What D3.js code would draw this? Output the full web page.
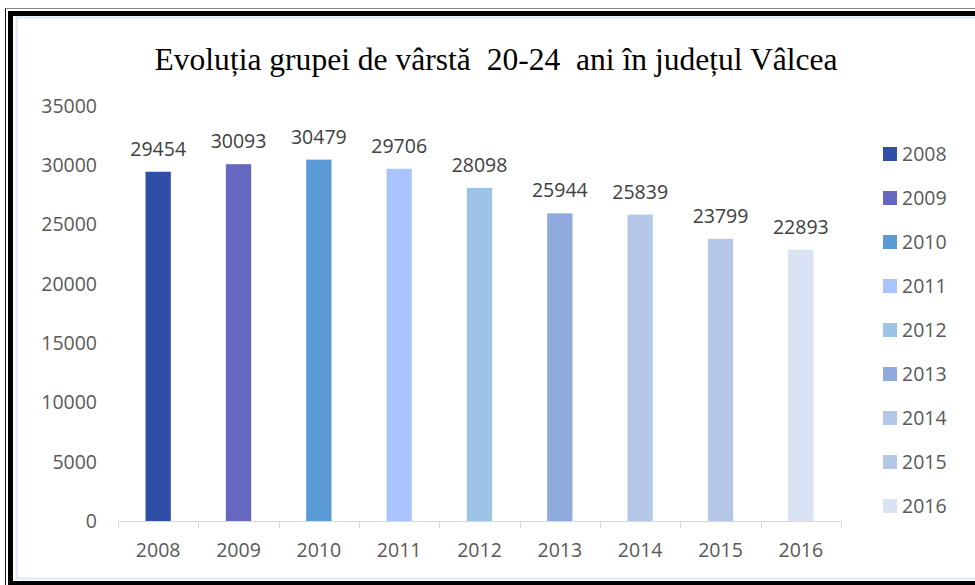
<!DOCTYPE html>
<html lang="ro">
<head>
  <meta charset="UTF-8">
  <title>Evoluția grupei de vârstă 20-24 ani</title>
  <style>
    body { margin: 0; background: #fff; }
    text { font-family: "Open Sans", "Noto Sans", sans-serif; }
  </style>
</head>
<body>
  <script src="https://cdnjs.cloudflare.com/ajax/libs/d3/7.8.5/d3.min.js"></script>
  <script>
    let years = ['2008', '2009', '2010', '2011', '2012', '2013', '2014', '2015', '2016']
    let values = [29454, 30093, 30479, 29706, 28098, 25944, 25839, 23799, 22893]
    let colors = ['#2f4ea6', '#6667c0', '#5b9bd5', '#a9c4ff', '#9dc3e6', '#8faadc', '#b4c7e7', '#b4c7e7', '#dae3f3']
    let yTicks = [0, 5000, 10000, 15000, 20000, 25000, 30000, 35000]

    let width = 975
    let height = 585
    let svg = d3.select('body')
      .append('svg')
      .attr('width', width)
      .attr('height', height)

    // rama neagră dublă
    svg.append('rect').attr('x', 0).attr('y', 0).attr('width', width).attr('height', height).attr('fill', '#fff')
    svg.append('line').attr('x1', 5.5).attr('x2', width).attr('y1', 8.5).attr('y2', 8.5).attr('stroke', '#888')
    svg.append('line').attr('x1', 5.5).attr('x2', 5.5).attr('y1', 8.5).attr('y2', height).attr('stroke', '#111')
    svg.append('path')
      .attr('d', `M10.5,${height} V13.5 H${width}`)
      .attr('fill', 'none').attr('stroke', '#000').attr('stroke-width', 5)
    svg.append('line').attr('x1', 8).attr('x2', width).attr('y1', 583).attr('y2', 583)
      .attr('stroke', '#000').attr('stroke-width', 4)
    svg.append('rect')
      .attr('x', 16.5).attr('y', 17.5).attr('width', width).attr('height', 561)
      .attr('fill', '#fff').attr('stroke', '#dde8f4').attr('stroke-width', 2)

    let margin = { left: 118, right: 134, top: 106, bottom: 64 }

    let xScale = d3.scaleBand()
      .domain(years)
      .range([margin.left, width - margin.right])
      .paddingInner(0.685)
      .paddingOuter(0.3425)

    let yScale = d3.scaleLinear()
      .domain([0, 35000])
      .range([height - margin.bottom, margin.top])

    // titlu
    svg.append('text')
      .attr('x', 496)
      .attr('y', 70)
      .attr('text-anchor', 'middle')
      .attr('textLength', 683)
      .attr('lengthAdjust', 'spacingAndGlyphs')
      .style('white-space', 'pre')
      .style('font-family', '"Liberation Serif", "DejaVu Serif", serif')
      .style('font-size', '32px')
      .attr('fill', '#000')
      .text('Evoluția grupei de vârstă  20-24  ani în județul Vâlcea')

    // axa y (doar etichete)
    svg.append('g')
      .selectAll('text')
      .data(yTicks)
      .enter()
      .append('text')
      .attr('x', 97)
      .attr('y', d => yScale(d))
      .attr('dy', '0.35em')
      .attr('text-anchor', 'end')
      .attr('fill', '#595959')
      .style('font-size', '19.5px')
      .text(d => d)

    // axa x
    let xAxis = d3.axisBottom(xScale).tickSize(0).tickPadding(22)
    let gx = svg.append('g')
      .attr('transform', `translate(0,${yScale(0)})`)
      .call(xAxis)
    gx.select('.domain').attr('stroke', '#d9d9d9')
    gx.selectAll('text').attr('fill', '#595959').style('font-size', '19.5px').style('font-family', '"Open Sans", sans-serif')

    let bounds = years.map(d => xScale(d) - xScale.step() * xScale.paddingInner() / 2)
    bounds.push(width - margin.right)
    gx.selectAll('.sep')
      .data(bounds)
      .enter()
      .append('line')
      .attr('class', 'sep')
      .attr('x1', d => Math.round(d) + 0.5)
      .attr('x2', d => Math.round(d) + 0.5)
      .attr('y1', 0)
      .attr('y2', 7)
      .attr('stroke', '#d9d9d9')

    // bare
    svg.selectAll('.bar')
      .data(values)
      .enter()
      .append('rect')
      .attr('class', 'bar')
      .attr('x', (d, i) => xScale(years[i]))
      .attr('y', d => yScale(d))
      .attr('width', xScale.bandwidth())
      .attr('height', d => yScale(0) - yScale(d))
      .attr('fill', (d, i) => colors[i])

    // etichete valori
    svg.selectAll('.lbl')
      .data(values)
      .enter()
      .append('text')
      .attr('class', 'lbl')
      .attr('x', (d, i) => xScale(years[i]) + xScale.bandwidth() / 2)
      .attr('y', d => yScale(d) - 16)
      .attr('text-anchor', 'middle')
      .attr('fill', '#404040')
      .style('font-size', '19.5px')
      .text(d => d)

    // legenda
    let legend = svg.append('g')
      .selectAll('g')
      .data(years)
      .enter()
      .append('g')
      .attr('transform', (d, i) => `translate(883,${154 + i * 44})`)
    legend.append('rect')
      .attr('x', 0).attr('y', -7).attr('width', 14).attr('height', 14)
      .attr('fill', (d, i) => colors[i])
    legend.append('text')
      .attr('x', 19)
      .attr('dy', '0.36em')
      .attr('fill', '#595959')
      .style('font-size', '19.5px')
      .text(d => d)
  </script>
</body>
</html>
